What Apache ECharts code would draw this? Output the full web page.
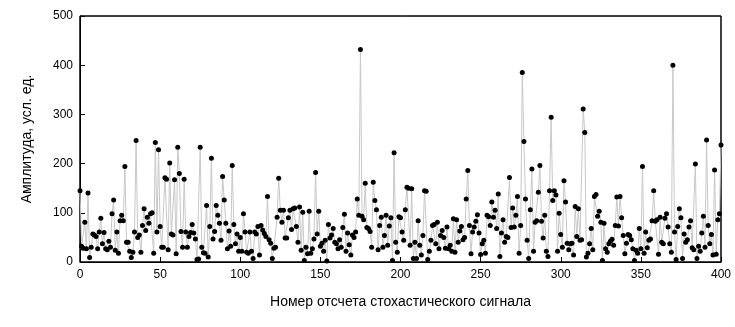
<!DOCTYPE html>
<html>
<head>
<meta charset="utf-8">
<script src="https://cdn.jsdelivr.net/npm/echarts@6/dist/echarts.min.js"></script>
<style>
  html, body { margin: 0; padding: 0; background: #fff; }
  #chart { width: 735px; height: 327px; }
</style>
</head>
<body>
<div id="chart"></div>
<script>
// Sample amplitudes of the stochastic signal, index 0..400
const amplitudes = [
  145, 32, 28, 81, 27, 140, 9, 30, 57, 55, 52, 27, 61, 89, 37, 60, 27, 25, 42, 30, 98, 126, 24, 61, 18, 84, 95, 84, 194, 40, 40, 22,
  9, 20, 61, 247, 50, 55, 20, 74, 108, 64, 91, 79, 98, 100, 18, 243, 61, 228, 72, 30, 30, 171, 168, 25, 201, 57, 55, 167, 17, 233, 180, 62, 30, 168,
  61, 30, 52, 60, 76, 59, 47, 5, 6, 233, 30, 19, 18, 115, 10, 72, 211, 47, 62, 115, 95, 79, 44, 174, 126, 79, 27, 63, 32, 196, 76, 37, 57, 22, 50,
  22, 98, 61, 20, 18, 61, 22, 7, 61, 57, 72, 14, 74, 65, 58, 52, 133, 45, 38, 7, 28, 30, 91, 170, 105, 81, 105, 49, 49, 90, 105, 66, 108,
  110, 72, 40, 112, 24, 101, 3, 30, 17, 103, 18, 27, 47, 182, 57, 103, 32, 38, 22, 44, 2, 76, 49, 55, 68, 40, 37, 27, 45, 30, 70, 97, 22, 59,
  35, 14, 55, 50, 61, 128, 95, 432, 93, 86, 160, 70, 68, 62, 30, 162, 125, 106, 25, 74, 91, 30, 54, 95, 34, 73, 90, 3, 222, 40, 20, 92, 90,
  61, 44, 106, 152, 150, 34, 149, 7, 40, 7, 84, 34, 14, 54, 145, 144, 5, 22, 44, 74, 76, 37, 81, 27, 54, 64, 50, 28, 71, 27, 34, 22, 88, 20,
  86, 40, 63, 72, 45, 50, 128, 186, 74, 17, 61, 71, 83, 96, 59, 15, 37, 44, 18, 95, 92, 74, 122, 91, 105, 68, 138, 11, 59, 86, 40, 52, 50, 172,
  70, 110, 71, 95, 133, 18, 74, 385, 245, 128, 44, 7, 106, 189, 22, 81, 84, 142, 196, 83, 49, 95, 22, 11, 145, 294, 125, 145, 136, 22, 99, 56, 30,
  165, 122, 38, 25, 37, 38, 14, 113, 52, 108, 44, 45, 311, 263, 10, 18, 37, 68, 25, 133, 137, 93, 103, 81, 3, 79, 27, 20, 37, 42, 46, 34, 74, 132,
  73, 133, 90, 54, 17, 38, 56, 54, 45, 27, 3, 24, 18, 68, 27, 194, 18, 61, 29, 44, 47, 84, 145, 83, 86, 16, 91, 40, 37, 89, 98, 71, 37, 20,
  400, 61, 5, 72, 108, 90, 7, 57, 40, 45, 71, 84, 29, 25, 199, 7, 32, 22, 59, 93, 30, 248, 74, 37, 56, 14, 187, 16, 86, 98, 238
];

// Axis ranges and tick steps
const xRange = [0, 400];
const xStep = 50;
const yRange = [0, 500];
const yStep = 100;

const xTitle = 'Номер отсчета стохастического сигнала';
const yTitle = 'Амплитуда, усл. ед.';

const points = amplitudes.map((v, i) => [i, v]);

const FONT = 'Arial, "Liberation Sans", sans-serif';

const chart = echarts.init(document.getElementById('chart'));
chart.setOption({
  animation: false,
  grid: { left: 80, right: 14, top: 16, bottom: 65, show: true, borderColor: '#000', borderWidth: 1 },
  xAxis: {
    type: 'value', min: xRange[0], max: xRange[1], interval: xStep,
    axisLine: { show: true, lineStyle: { color: '#000', width: 1 } },
    axisTick: { show: true, inside: true, length: 5, lineStyle: { color: '#000', width: 1 } },
    splitLine: { show: false },
    axisLabel: { color: '#000', fontFamily: FONT, fontSize: 12, margin: 7 },
    name: xTitle, nameLocation: 'middle', nameGap: 33,
    nameTextStyle: { color: '#000', fontFamily: FONT, fontSize: 14 }
  },
  yAxis: {
    type: 'value', min: yRange[0], max: yRange[1], interval: yStep,
    axisLine: { show: true, lineStyle: { color: '#000', width: 1 } },
    axisTick: { show: true, inside: true, length: 5, lineStyle: { color: '#000', width: 1 } },
    splitLine: { show: false },
    axisLabel: { color: '#000', fontFamily: FONT, fontSize: 12, margin: 7 },
    name: yTitle, nameLocation: 'middle', nameGap: 46, nameRotate: 90,
    nameTextStyle: { color: '#000', fontFamily: FONT, fontSize: 14 }
  },
  series: [
    {
      type: 'line',
      data: points,
      symbol: 'circle', symbolSize: 5,
      showAllSymbol: true,
      lineStyle: { color: '#c8c8c8', width: 1 },
      itemStyle: { color: '#000' },
      emphasis: { disabled: true },
      // plot box outline spanning the full axis ranges
      markArea: {
        silent: true,
        itemStyle: { color: 'rgba(0,0,0,0)', borderColor: '#000', borderWidth: 1 },
        data: [[{ xAxis: xRange[0], yAxis: yRange[0] }, { xAxis: xRange[1], yAxis: yRange[1] }]]
      }
    }
  ]
});
</script>
</body>
</html>
